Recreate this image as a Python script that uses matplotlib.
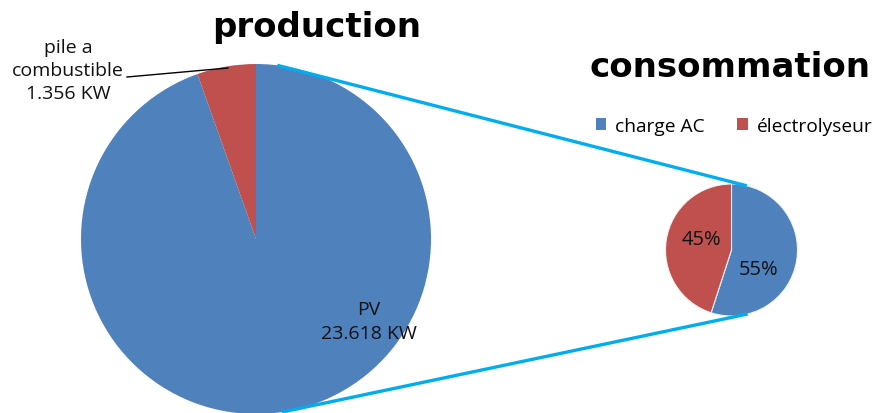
import numpy as np
import matplotlib
matplotlib.use("Agg")
import matplotlib.pyplot as plt
from matplotlib.patches import Patch

# Production (kW)
prod_labels = ["PV", "pile a\ncombustible"]
prod_values = [23.618, 1.356]

# Consumption share (%)
cons_labels = ["charge AC", "électrolyseur"]
cons_values = [55, 45]

colors = ["#4F81BD", "#C0504D"]
link_color = "#00AEEF"
W, H = 878, 414

plt.rcParams["font.family"] = ["Open Sans", "DejaVu Sans"]

fig = plt.figure(figsize=(W / 100, H / 100), dpi=100)
ax = fig.add_axes([0, 0, 1, 1])


def Y(y):
    return H - y


big_c, big_r = (256, Y(240)), 175
small_c, small_r = (731.5, Y(251)), 66

ax.pie(prod_values, colors=colors, startangle=90, counterclock=False,
       center=big_c, radius=big_r, frame=True,
       wedgeprops=dict(linewidth=0))
ax.pie(cons_values, colors=colors, startangle=90, counterclock=False,
       center=small_c, radius=small_r, frame=True,
       wedgeprops=dict(linewidth=0.8, edgecolor="#f2f2f2"))
ax.set_xlim(0, W)
ax.set_ylim(0, H)
ax.set_aspect("equal")
ax.axis("off")


def on_circle(c, r, deg):
    t = np.deg2rad(deg)
    return c[0] + r * np.cos(t), c[1] + r * np.sin(t)


# Connectors between the two pies
for a_big, a_small in [(83.0, 76.6), (-81.5, -75.8)]:
    p0 = on_circle(big_c, big_r, a_big)
    p1 = on_circle(small_c, small_r, a_small)
    ax.plot([p0[0], p1[0]], [p0[1], p1[1]], color=link_color, lw=2.4,
            solid_capstyle="butt", zorder=5)

# Data labels
lab_fs = 14
ax.text(68, Y(71), f"{prod_labels[1]}\n{prod_values[1]:.3f} KW", ha="center",
        va="center", fontsize=lab_fs, linespacing=1.38, color="#111111")
ax.plot([127, 228], [Y(78), Y(69)], color="black", lw=1.0)
ax.text(369, Y(322), f"{prod_labels[0]}\n{prod_values[0]:.3f} KW", ha="center",
        va="center", fontsize=lab_fs, linespacing=1.45, color="#111111")

ax.text(701, Y(240), f"{cons_values[1]}%", ha="center", va="center",
        fontsize=14.5, color="#111111")
ax.text(759, Y(270), f"{cons_values[0]}%", ha="center", va="center",
        fontsize=14.5, color="#111111")

# Titles
ax.text(317, Y(37), "production", ha="center", va="baseline", fontsize=24.5,
        fontweight="bold", family="DejaVu Sans")
ax.text(730, Y(77), "consommation", ha="center", va="baseline", fontsize=24.5,
        fontweight="bold", family="DejaVu Sans")

# Legend
handles = [Patch(facecolor=c, edgecolor="none") for c in colors]
ax.legend(handles, cons_labels, ncol=2, frameon=False, loc="center",
          bbox_to_anchor=(734 / W, Y(127) / H), fontsize=13.8,
          handlelength=0.55, handleheight=0.55, handletextpad=0.45,
          columnspacing=1.7, borderaxespad=0)

fig.savefig("out.png", dpi=100, facecolor="white")
